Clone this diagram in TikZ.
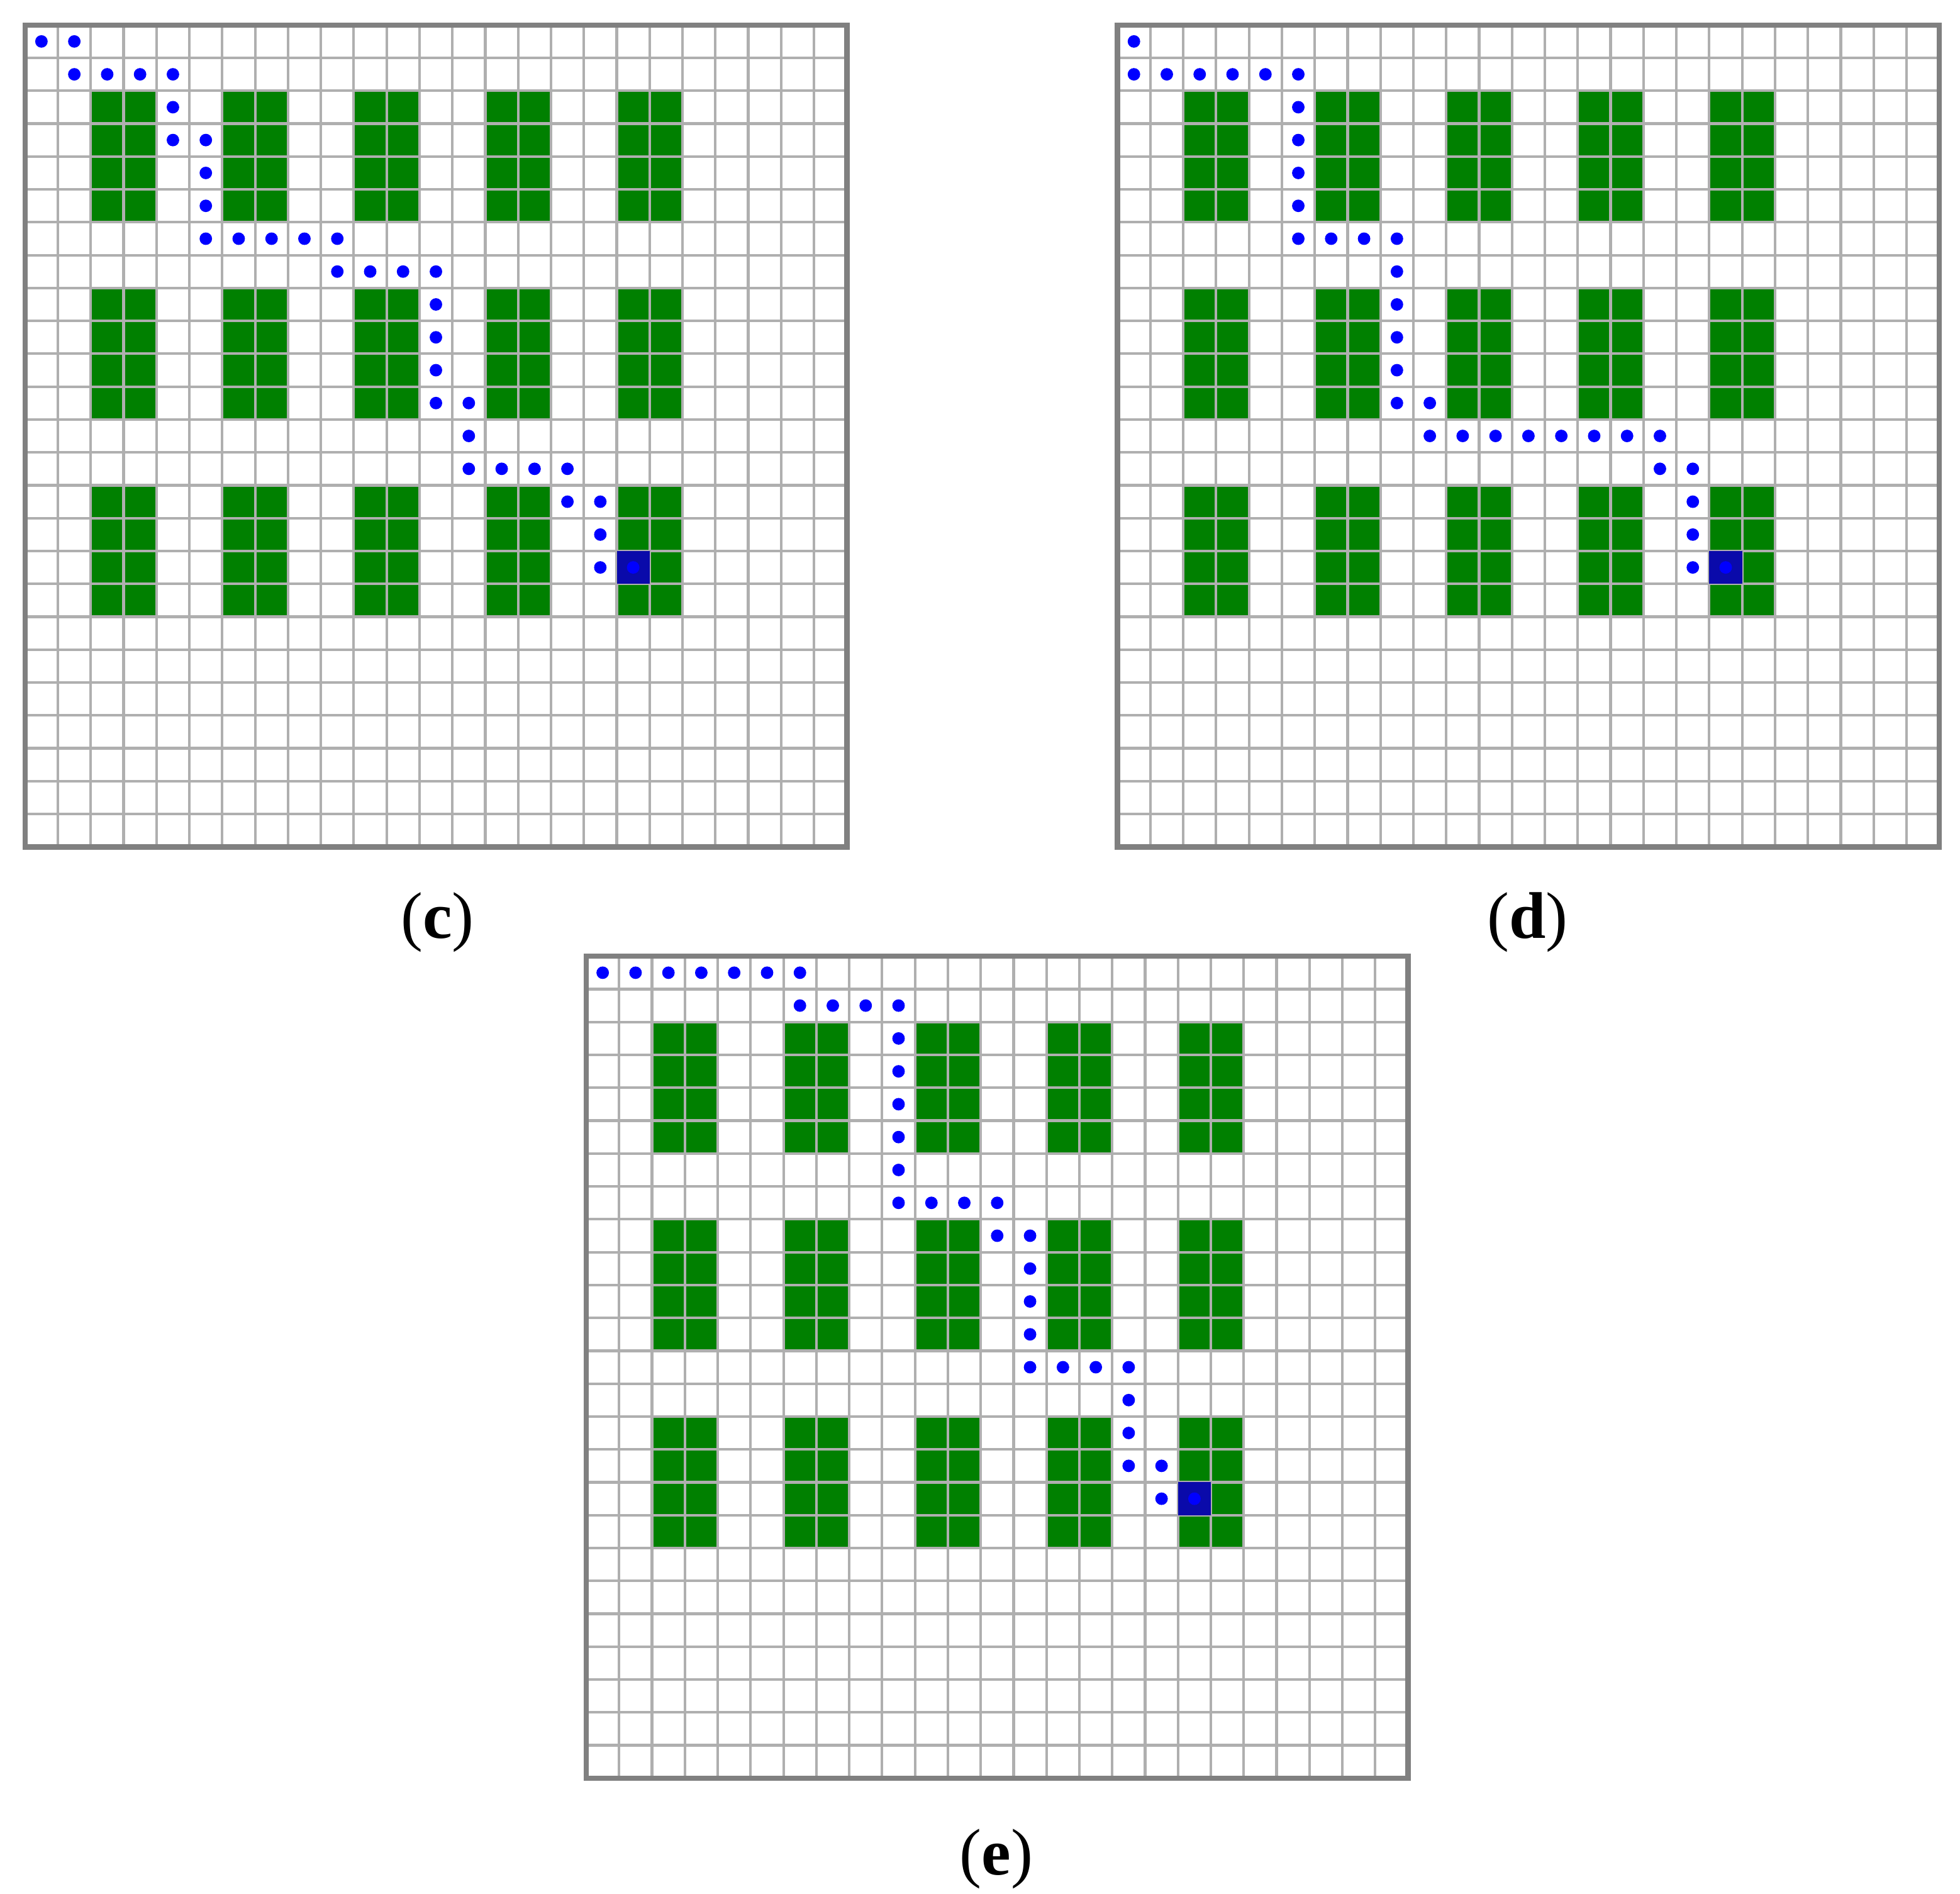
\documentclass[tikz,border=0pt]{standalone}
\usepackage{fontspec}
\setmainfont{Liberation Serif}
\definecolor{gfield}{RGB}{0,128,0}
\definecolor{gline}{RGB}{175,175,175}
\definecolor{goalc}{RGB}{10,10,170}
\newcommand\gridpanel[2]{%
\begin{scope}[shift={#1}]
 \foreach \c in {2,6,10,14,18}{\foreach \r in {2,8,14}{\fill[gfield] (\c*26.3,\r*26.3) rectangle ++(52.6,105.2);}}
 \foreach \i in {0,...,25}{\draw[gline,line width=0.6pt] (\i*26.3,0) -- (\i*26.3,657.5);
   \draw[gline,line width=0.6pt] (0,\i*26.3) -- (657.5,\i*26.3);}
 \draw[gray,line width=1.2pt] (0,0) rectangle (657.5,657.5);
 \fill[goalc] (18*26.3,16*26.3) rectangle ++(26.3,26.3);
 \fill[blue] (18.5*26.3,16.5*26.3) circle[radius=0.05cm];
 \foreach \c/\r in {#2}{\fill[blue] ({(\c+0.5)*26.3},{(\r+0.5)*26.3}) circle[radius=0.05cm];}
\end{scope}}
\begin{document}
\begin{tikzpicture}[x=0.01cm,y=-0.01cm]
\fill[white] (0,0) rectangle (1568,1515);
\useasboundingbox (0,0) rectangle (1568,1515);
\gridpanel{(20,20)}{0/0,1/0,1/1,2/1,3/1,4/1,4/2,4/3,5/3,5/4,5/5,5/6,6/6,7/6,8/6,9/6,9/7,10/7,11/7,12/7,12/8,12/9,12/10,12/11,13/11,13/12,13/13,14/13,15/13,16/13,16/14,17/14,17/15,17/16}
\gridpanel{(894,20)}{0/0,0/1,1/1,2/1,3/1,4/1,5/1,5/2,5/3,5/4,5/5,5/6,6/6,7/6,8/6,8/7,8/8,8/9,8/10,8/11,9/11,9/12,10/12,11/12,12/12,13/12,14/12,15/12,16/12,16/13,17/13,17/14,17/15,17/16}
\gridpanel{(469,765)}{0/0,1/0,2/0,3/0,4/0,5/0,6/0,6/1,7/1,8/1,9/1,9/2,9/3,9/4,9/5,9/6,9/7,10/7,11/7,12/7,12/8,13/8,13/9,13/10,13/11,13/12,14/12,15/12,16/12,16/13,16/14,16/15,17/15,17/16}
\node[font=\fontsize{15}{18}\selectfont] (lc) at (350,738) {(\textbf{c})};
\node[font=\fontsize{15}{18}\selectfont] (ld) at (1222,738) {(\textbf{d})};
\node[font=\fontsize{15}{18}\selectfont] (le) at (797,1487) {(\textbf{e})};
\end{tikzpicture}
\end{document}
